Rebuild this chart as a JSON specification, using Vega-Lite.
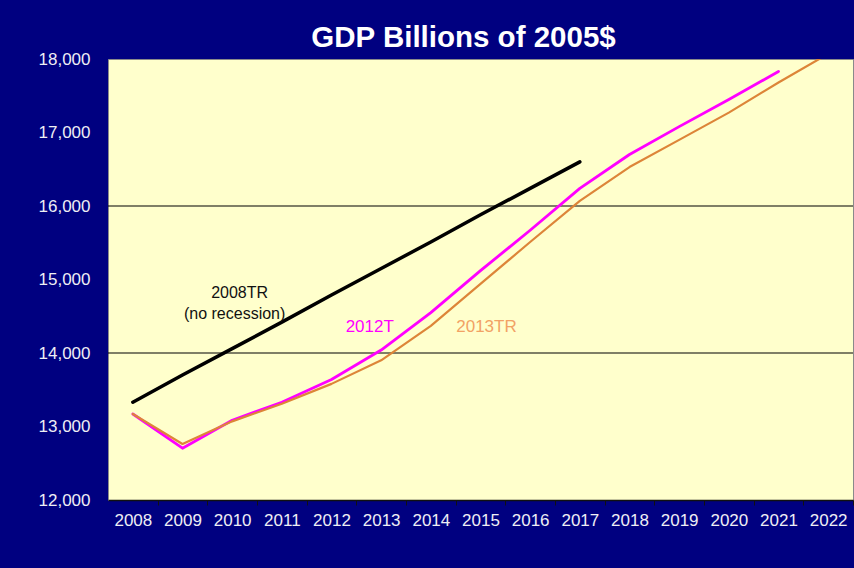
{
  "$schema": "https://vega.github.io/schema/vega-lite/v6.json",
  "width": 745,
  "height": 441,
  "autosize": {"type": "none"},
  "padding": {"left": 108, "top": 59, "right": 1, "bottom": 68},
  "background": "#000080",
  "title": {
    "text": "GDP Billions of 2005$",
    "color": "white",
    "font": "Liberation Sans",
    "fontSize": 29.5,
    "fontWeight": "bold",
    "anchor": "middle",
    "frame": "group",
    "baseline": "alphabetic",
    "offset": 11,
    "dx": -17,
    "dy": 37
  },
  "config": {
    "view": {"fill": "#FFFFCC", "stroke": "#8a8a8a", "strokeWidth": 1},
    "font": "Liberation Sans"
  },
  "datasets": {
    "gdp": [
      {"series": "2008TR", "year": 2008, "gdp": 13330},
      {"series": "2008TR", "year": 2009, "gdp": 13700},
      {"series": "2008TR", "year": 2010, "gdp": 14060},
      {"series": "2008TR", "year": 2011, "gdp": 14420},
      {"series": "2008TR", "year": 2012, "gdp": 14790},
      {"series": "2008TR", "year": 2013, "gdp": 15150},
      {"series": "2008TR", "year": 2014, "gdp": 15510},
      {"series": "2008TR", "year": 2015, "gdp": 15880},
      {"series": "2008TR", "year": 2016, "gdp": 16240},
      {"series": "2008TR", "year": 2017, "gdp": 16600},
      {"series": "2012T", "year": 2008, "gdp": 13170},
      {"series": "2012T", "year": 2009, "gdp": 12705},
      {"series": "2012T", "year": 2010, "gdp": 13085},
      {"series": "2012T", "year": 2011, "gdp": 13330},
      {"series": "2012T", "year": 2012, "gdp": 13640},
      {"series": "2012T", "year": 2013, "gdp": 14040},
      {"series": "2012T", "year": 2014, "gdp": 14550},
      {"series": "2012T", "year": 2015, "gdp": 15120},
      {"series": "2012T", "year": 2016, "gdp": 15670},
      {"series": "2012T", "year": 2017, "gdp": 16240},
      {"series": "2012T", "year": 2018, "gdp": 16700},
      {"series": "2012T", "year": 2019, "gdp": 17080},
      {"series": "2012T", "year": 2020, "gdp": 17450},
      {"series": "2012T", "year": 2021, "gdp": 17830},
      {"series": "2013TR", "year": 2008, "gdp": 13170},
      {"series": "2013TR", "year": 2009, "gdp": 12762},
      {"series": "2013TR", "year": 2010, "gdp": 13070},
      {"series": "2013TR", "year": 2011, "gdp": 13310},
      {"series": "2013TR", "year": 2012, "gdp": 13580},
      {"series": "2013TR", "year": 2013, "gdp": 13900},
      {"series": "2013TR", "year": 2014, "gdp": 14370},
      {"series": "2013TR", "year": 2015, "gdp": 14940},
      {"series": "2013TR", "year": 2016, "gdp": 15510},
      {"series": "2013TR", "year": 2017, "gdp": 16070},
      {"series": "2013TR", "year": 2018, "gdp": 16530},
      {"series": "2013TR", "year": 2019, "gdp": 16900},
      {"series": "2013TR", "year": 2020, "gdp": 17270},
      {"series": "2013TR", "year": 2021, "gdp": 17680},
      {"series": "2013TR", "year": 2022, "gdp": 18070}
    ],
    "grid": [{"gdp": 14000}, {"gdp": 16000}],
    "labels": [
      {"group": "2008TR", "label": "2008TR", "year": 2010.15, "gdp": 14810},
      {"group": "2008TR", "label": "(no recession)", "year": 2010.05, "gdp": 14525},
      {"group": "2012T", "label": "2012T", "year": 2012.77, "gdp": 14354},
      {"group": "2013TR", "label": "2013TR", "year": 2015.12, "gdp": 14354}
    ]
  },
  "layer": [
    {
      "data": {"name": "grid"},
      "mark": {"type": "rule", "color": "#000000", "strokeWidth": 1.2},
      "encoding": {
        "y": {
          "field": "gdp",
          "type": "quantitative",
          "scale": {"domain": [12000, 18000], "nice": false, "zero": false},
          "axis": {
            "values": [12000, 13000, 14000, 15000, 16000, 17000, 18000],
            "format": ",d",
            "labelColor": "#EEEEF4",
            "labelFontSize": 17,
            "labelFont": "Liberation Sans",
            "ticks": false,
            "domain": false,
            "grid": false,
            "labelPadding": 18,
            "title": null
          }
        }
      }
    },
    {
      "data": {"name": "gdp"},
      "mark": {"type": "line", "clip": true, "strokeCap": "round", "strokeJoin": "round"},
      "encoding": {
        "x": {
          "field": "year",
          "type": "quantitative",
          "scale": {"domain": [2007.5, 2022.5], "nice": false, "zero": false},
          "axis": {
            "values": [2008, 2009, 2010, 2011, 2012, 2013, 2014, 2015, 2016, 2017, 2018, 2019, 2020, 2021, 2022],
            "format": "d",
            "labelColor": "#EEEEF4",
            "labelFontSize": 17,
            "labelFont": "Liberation Sans",
            "tickColor": "#111111",
            "tickSize": 5,
            "tickOffset": 24.83,
            "labelOffset": -24.83,
            "domainColor": "#111111",
            "domainWidth": 1.5,
            "labelPadding": 7,
            "grid": false,
            "title": null
          }
        },
        "y": {"field": "gdp", "type": "quantitative"},
        "color": {
          "field": "series",
          "type": "nominal",
          "scale": {"domain": ["2008TR", "2012T", "2013TR"], "range": ["#000000", "#FF00FF", "#DD8538"]},
          "legend": null
        },
        "strokeWidth": {
          "field": "series",
          "type": "nominal",
          "scale": {"domain": ["2008TR", "2012T", "2013TR"], "range": [3.5, 2.2, 2.2]},
          "legend": null
        },
        "detail": {"field": "series"}
      }
    },
    {
      "data": {"name": "labels"},
      "transform": [{"filter": "datum.group === '2008TR'"}],
      "mark": {"type": "text", "color": "#111111", "fontSize": 16, "font": "Liberation Sans", "baseline": "middle", "align": "center"},
      "encoding": {
        "x": {"field": "year", "type": "quantitative"},
        "y": {"field": "gdp", "type": "quantitative"},
        "text": {"field": "label"}
      }
    },
    {
      "data": {"name": "labels"},
      "transform": [{"filter": "datum.group === '2012T'"}],
      "mark": {"type": "text", "color": "#FF00FF", "fontSize": 17, "font": "Liberation Sans", "baseline": "middle", "align": "center"},
      "encoding": {
        "x": {"field": "year", "type": "quantitative"},
        "y": {"field": "gdp", "type": "quantitative"},
        "text": {"field": "label"}
      }
    },
    {
      "data": {"name": "labels"},
      "transform": [{"filter": "datum.group === '2013TR'"}],
      "mark": {"type": "text", "color": "#F2A264", "fontSize": 17, "font": "Liberation Sans", "baseline": "middle", "align": "center"},
      "encoding": {
        "x": {"field": "year", "type": "quantitative"},
        "y": {"field": "gdp", "type": "quantitative"},
        "text": {"field": "label"}
      }
    }
  ]
}
